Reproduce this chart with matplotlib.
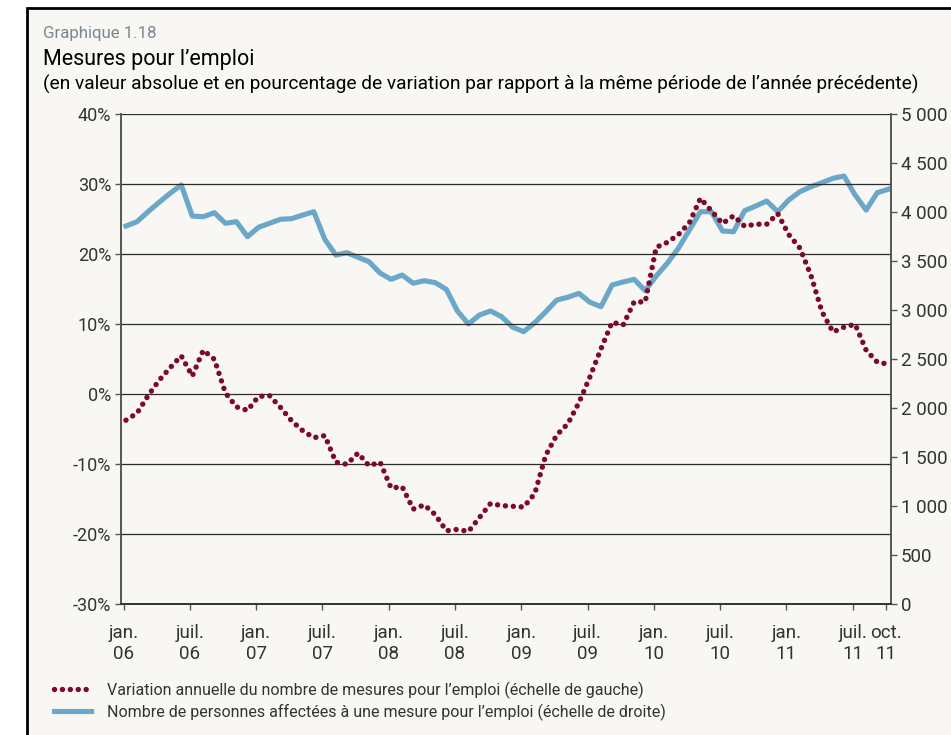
import matplotlib
matplotlib.use("Agg")
import matplotlib.pyplot as plt
from matplotlib.lines import Line2D
from matplotlib.patches import Rectangle
from matplotlib.ticker import FuncFormatter

plt.rcParams['font.family'] = ['Roboto', 'DejaVu Sans']

# mois de jan. 06 à oct. 11 (70 points)
variation_pct = [
    -3.7, -2.7, -0.2, 2.0, 3.8, 5.5, 2.6, 6.3, 5.0, 0.2, -1.8, -2.3,
    -0.3, -0.2, -1.9, -3.8, -5.2, -6.2, -5.9, -9.7, -10.0, -8.4, -10.2, -9.7,
    -13.4, -13.2, -16.4, -15.8, -17.2, -19.5, -19.3, -19.6, -17.6, -15.6, -15.9, -16.0,
    -16.1, -14.2, -8.7, -5.8, -4.2, -1.2, 2.5, 6.5, 10.3, 9.9, 13.2, 13.2,
    21.0, 21.7, 22.8, 24.5, 28.0, 26.2, 24.4, 25.5, 24.0, 24.3, 24.3, 25.8,
    22.8, 20.9, 17.0, 11.8, 8.9, 9.6, 10.0, 6.3, 4.6, 4.3,
]
personnes = [
    3860, 3904, 4006, 4102, 4194, 4279, 3962, 3955, 3996, 3888, 3904, 3751,
    3847, 3888, 3929, 3935, 3972, 4006, 3724, 3564, 3588, 3541, 3496, 3380,
    3316, 3360, 3276, 3302, 3282, 3214, 2993, 2860, 2952, 2993, 2935, 2828,
    2782, 2873, 2986, 3105, 3133, 3173, 3082, 3037, 3258, 3289, 3316, 3200,
    3350, 3480, 3633, 3819, 4006, 4006, 3809, 3802, 4016, 4064, 4115, 4006,
    4126, 4210, 4261, 4302, 4347, 4370, 4177, 4023, 4200, 4235,
]
tick_months = [0, 6, 12, 18, 24, 30, 36, 42, 48, 54, 60, 66, 69]
tick_labels = ['jan.\n06', 'juil.\n06', 'jan.\n07', 'juil.\n07', 'jan.\n08', 'juil.\n08',
               'jan.\n09', 'juil.\n09', 'jan.\n10', 'juil.\n10', 'jan.\n11', 'juil.\n11', 'oct.\n11']

RED = '#7d0a29'
BLUE = '#6aa7c9'
BG = '#f8f7f3'
TXT = '#333333'
DOTS = (0, (0.01, 1.45))

fig = plt.figure(figsize=(9.51, 7.35), dpi=100, facecolor='white')
panel = Rectangle((27 / 951, -0.05), 1.0, 1 - 8 / 735 + 0.05, transform=fig.transFigure,
                  facecolor=BG, edgecolor='black', linewidth=2, zorder=-10)
fig.patches.append(panel)

fig.text(43 / 951, 1 - 38 / 735, 'Graphique 1.18', fontsize=12.2, color='#7b8894', va='baseline')
fig.text(43 / 951, 1 - 65 / 735, "Mesures pour l\u2019emploi", fontsize=15.5, color='black', va='baseline')
fig.text(43 / 951, 1 - 90 / 735,
         "(en valeur absolue et en pourcentage de variation par rapport \u00e0 la m\u00eame p\u00e9riode de l\u2019ann\u00e9e pr\u00e9c\u00e9dente)",
         fontsize=13.8, color='black', va='baseline')

ax = fig.add_axes([121 / 951, 1 - 604.3 / 735, 770 / 951, 490 / 735])
ax2 = ax.twinx()
ax.set_zorder(1)
ax2.set_zorder(0)
ax.patch.set_visible(False)
ax2.patch.set_visible(False)

x = list(range(len(variation_pct)))

ax.set_ylim(-30, 40)
ax.set_yticks(range(-30, 41, 10))
ax.yaxis.set_major_formatter(FuncFormatter(lambda v, p: f'{int(v)}%'))
for yv in range(-20, 41, 10):
    ax.axhline(yv, color='#2b2b2b', linewidth=0.9, zorder=1)

ax.plot(x, variation_pct, color=RED, linewidth=3.9, linestyle=DOTS,
        dash_capstyle='round', zorder=4)

ax2.set_ylim(0, 5000)
ax2.set_yticks(range(0, 5001, 500))
ax2.yaxis.set_major_formatter(FuncFormatter(lambda v, p: f'{int(v):,}'.replace(',', ' ')))
ax2.plot(x, personnes, color=BLUE, linewidth=3.7, zorder=3)

ax.set_xlim(-0.45, 69.25)
ax.set_xticks([m - 0.22 if m < 69 else 68.8 for m in tick_months])
ax.set_xticklabels(tick_labels, fontsize=13.5, color=TXT, linespacing=1.2)

for a in (ax, ax2):
    a.spines['top'].set_visible(False)
    for s in ('left', 'right', 'bottom'):
        a.spines[s].set_color('#555555')
        a.spines[s].set_linewidth(1.2)
ax.spines['bottom'].set_color('#2b2b2b')
ax.tick_params(axis='y', length=4, width=1, color='#555555', labelsize=13, labelcolor=TXT, pad=3)
ax.tick_params(axis='x', length=4, width=1, color='#555555', pad=10)
ax2.tick_params(axis='y', length=4, width=1, color='#555555', labelsize=13.5, labelcolor=TXT, pad=3)

handles = [
    Line2D([], [], color=RED, linewidth=3.9, linestyle=DOTS, dash_capstyle='round'),
    Line2D([], [], color=BLUE, linewidth=3.7),
]
labels = [
    "Variation annuelle du nombre de mesures pour l\u2019emploi (\u00e9chelle de gauche)",
    "Nombre de personnes affect\u00e9es \u00e0 une mesure pour l\u2019emploi (\u00e9chelle de droite)",
]
leg = fig.legend(handles, labels, loc='upper left', bbox_to_anchor=(48 / 951, 1 - 675 / 735),
                 frameon=False, fontsize=11.5, handlelength=2.3, handletextpad=1.0,
                 labelspacing=0.3, borderaxespad=0)
for t in leg.get_texts():
    t.set_color(TXT)

fig.savefig('out.png', dpi=100, facecolor='white')
